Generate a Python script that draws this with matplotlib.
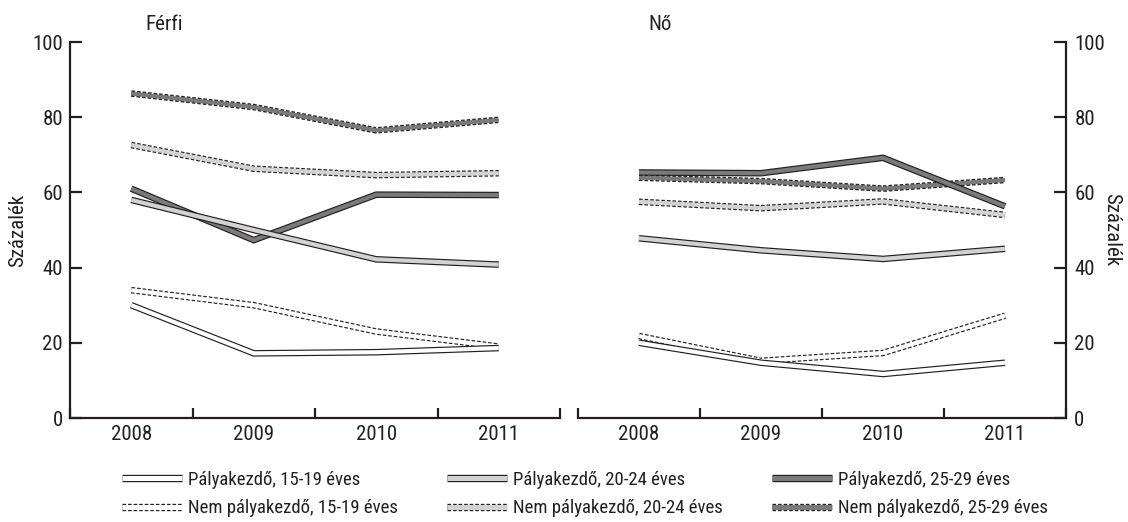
import matplotlib
matplotlib.use("Agg")
import matplotlib.pyplot as plt
from matplotlib.lines import Line2D

plt.rcParams['font.family'] = ['Roboto Condensed', 'Liberation Sans Narrow', 'DejaVu Sans']
plt.rcParams['font.stretch'] = 'condensed'
plt.rcParams['lines.scale_dashes'] = False

years = [2008, 2009, 2010, 2011]
series_labels = [
    "Pályakezdő, 15-19 éves",
    "Nem pályakezdő, 15-19 éves",
    "Pályakezdő, 20-24 éves",
    "Nem pályakezdő, 20-24 éves",
    "Pályakezdő, 25-29 éves",
    "Nem pályakezdő, 25-29 éves",
]
# Férfi (men)
ferfi_p15 = [30.0, 17.2, 17.5, 18.6]
ferfi_n15 = [34.0, 30.0, 23.0, 19.0]
ferfi_p20 = [58.0, 50.0, 42.2, 40.8]
ferfi_n20 = [72.6, 66.3, 64.6, 65.1]
ferfi_p25 = [61.0, 47.3, 59.4, 59.3]
ferfi_n25 = [86.3, 82.7, 76.5, 79.3]
# Nő (women)
no_p15 = [20.0, 14.7, 11.7, 14.7]
no_n15 = [21.8, 15.2, 17.3, 27.2]
no_p20 = [47.8, 44.6, 42.3, 45.0]
no_n20 = [57.5, 55.8, 57.6, 54.0]
no_p25 = [65.3, 65.1, 69.2, 56.3]
no_n25 = [63.9, 63.0, 61.0, 63.3]

ferfi = [ferfi_p15, ferfi_n15, ferfi_p20, ferfi_n20, ferfi_p25, ferfi_n25]
no = [no_p15, no_n15, no_p20, no_n20, no_p25, no_n25]

fills = ['#ffffff', '#ffffff', '#d2d2d2', '#d2d2d2', '#7a7a7a', '#7a7a7a']
dashed = [False, True, False, True, False, True]
edge = '#231f20'
OUT_LW = 4.7
IN_LW = 3.0
DASH = (2.6, 1.4)

fig = plt.figure(figsize=(11.28, 5.22), dpi=100)
H = 522.0
W = 1128.0
axL = fig.add_axes([70 / W, (H - 418) / H, 490 / W, 376 / H])
axR = fig.add_axes([578 / W, (H - 418) / H, 488 / W, 376 / H])

draw_order = [5, 3, 1, 4, 2, 0]


def draw(ax, data):
    for i in draw_order:
        ls = (0, DASH) if dashed[i] else '-'
        ax.plot(years, data[i], color=edge, lw=OUT_LW, linestyle=ls,
                solid_capstyle='butt', dash_capstyle='butt',
                solid_joinstyle='miter', dash_joinstyle='miter')
        ax.plot(years, data[i], color=fills[i], lw=IN_LW, linestyle='-',
                solid_capstyle='butt', solid_joinstyle='miter')


draw(axL, ferfi)
draw(axR, no)

for ax in (axL, axR):
    ax.set_xlim(2007.5, 2011.5)
    ax.set_ylim(0, 100)
    ax.set_xticks(years)
    ax.set_xticklabels([str(y) for y in years], fontsize=15, color=edge)
    ax.set_xticks([2007.5, 2008.5, 2009.5, 2010.5, 2011.5], minor=True)
    ax.tick_params(axis='x', which='major', length=0, pad=5)
    ax.tick_params(axis='x', which='minor', direction='in', length=7.5,
                   width=1.6, color=edge)
    ax.set_yticks([0, 20, 40, 60, 80, 100])
    ax.tick_params(axis='y', which='major', direction='in', length=8.5,
                   width=1.6, color=edge, labelsize=15, labelcolor=edge, pad=5)
    ax.spines['top'].set_visible(False)
    for s in ax.spines.values():
        s.set_linewidth(1.6)
        s.set_color(edge)
    ax.set_facecolor('none')

axL.spines['right'].set_visible(False)
axR.spines['left'].set_visible(False)
axR.yaxis.tick_right()
axR.tick_params(axis='y', pad=6)

fig.text(18 / W, 1 - 230 / H, "Százalék", fontsize=15, color=edge,
         rotation=90, ha='center', va='center')
fig.text(1112 / W, 1 - 230 / H, "Százalék", fontsize=15, color=edge,
         rotation=-90, ha='center', va='center')

fig.text(145 / W, 1 - 25 / H, "Férfi", fontsize=15, color=edge,
         ha='left', va='center')
fig.text(648 / W, 1 - 25 / H, "Nő", fontsize=15, color=edge,
         ha='left', va='center')


def handle(i):
    ls = (0, DASH) if dashed[i] else '-'
    a = Line2D([], [], color=edge, lw=OUT_LW + 0.6, linestyle=ls,
               solid_capstyle='butt', dash_capstyle='butt')
    b = Line2D([], [], color=fills[i], lw=IN_LW + 0.6, solid_capstyle='butt')
    return (a, b)


col_x = [122, 447, 772]
for c in range(3):
    idx = [2 * c, 2 * c + 1]
    fig.legend([handle(i) for i in idx], [series_labels[i] for i in idx],
               loc='upper left', bbox_to_anchor=(col_x[c] / W, 1 - 471 / H),
               frameon=False, fontsize=13.5, handlelength=3.2,
               handletextpad=0.3, labelspacing=0.55, borderpad=0,
               borderaxespad=0, labelcolor=edge)

fig.savefig("out.png", dpi=100)
